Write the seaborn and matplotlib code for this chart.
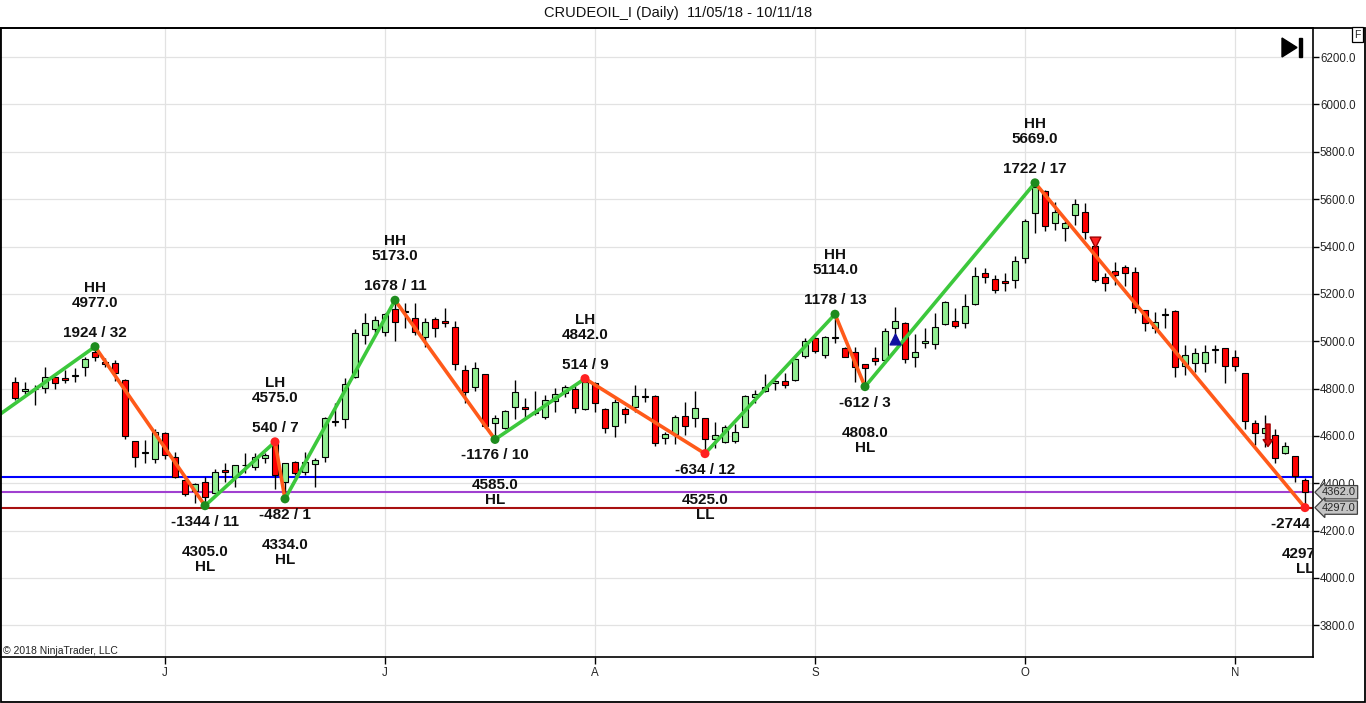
import numpy as np
import pandas as pd
import matplotlib
matplotlib.use("Agg")
import matplotlib.pyplot as plt
import seaborn as sns
from matplotlib.transforms import offset_copy, blended_transform_factory
from matplotlib.patches import Rectangle, Polygon

# ---------------- data ----------------
opens = [4829, 4790, 4797, 4801, 4848, 4843, 4855, 4892, 4956, 4912,
         4907, 4836, 4580, 4528, 4501, 4611, 4510, 4414, 4369, 4405,
         4360, 4456, 4425, 4475, 4470, 4506, 4572, 4404, 4489, 4449,
         4481, 4510, 4658, 4670, 4848, 5026, 5050, 5040, 5135, 5128,
         5097, 5016, 5093, 5085, 5059, 4878, 4805, 4860, 4656, 4632,
         4723, 4721, 4697, 4681, 4749, 4783, 4797, 4712, 4822, 4712,
         4642, 4712, 4721, 4764, 4770, 4590, 4608, 4684, 4677, 4674,
         4586, 4573, 4579, 4639, 4766, 4790, 4822, 4833, 4836, 4939,
         5012, 4942, 5013, 4973, 4953, 4902, 4928, 4921, 5054, 5076,
         4932, 4991, 4987, 5071, 5087, 5076, 5157, 5287, 5263, 5254,
         5258, 5350, 5540, 5636, 5498, 5477, 5533, 5547, 5402, 5272,
         5297, 5315, 5291, 5132, 5057, 5109, 5128, 4897, 4907, 4907,
         4961, 4970, 4932, 4864, 4653, 4611, 4604, 4527, 4516, 4414]
highs = [4848, 4828, 4815, 4892, 4850, 4878, 4886, 4932, 4977, 4928,
         4921, 4839, 4580, 4583, 4629, 4615, 4533, 4425, 4400, 4425,
         4459, 4484, 4478, 4527, 4529, 4529, 4575, 4487, 4493, 4533,
         4505, 4681, 4738, 4843, 5050, 5118, 5106, 5120, 5173, 5160,
         5160, 5097, 5101, 5139, 5087, 4900, 4911, 4862, 4688, 4709,
         4836, 4759, 4791, 4773, 4801, 4815, 4811, 4842, 4829, 4717,
         4755, 4721, 4815, 4801, 4773, 4618, 4688, 4745, 4790, 4677,
         4660, 4646, 4650, 4773, 4794, 4860, 4836, 4864, 4928, 5012,
         5016, 5022, 5114, 4977, 4977, 4902, 4977, 5057, 5146, 5080,
         5030, 5054, 5120, 5171, 5139, 5199, 5315, 5310, 5280, 5289,
         5360, 5515, 5669, 5639, 5589, 5508, 5599, 5585, 5410, 5287,
         5336, 5322, 5315, 5132, 5125, 5139, 5132, 4984, 4970, 4984,
         4984, 4972, 4963, 4864, 4667, 4688, 4628, 4576, 4516, 4421]
lows = [4750, 4777, 4731, 4783, 4797, 4825, 4829, 4853, 4918, 4890,
        4833, 4586, 4467, 4487, 4484, 4501, 4421, 4346, 4315, 4305,
        4355, 4407, 4383, 4442, 4456, 4487, 4375, 4334, 4434, 4435,
        4386, 4491, 4642, 4632, 4846, 4988, 5036, 5022, 5002, 5054,
        5026, 4974, 5016, 5061, 4878, 4740, 4791, 4632, 4585, 4628,
        4670, 4670, 4688, 4670, 4702, 4766, 4698, 4710, 4702, 4614,
        4594, 4656, 4702, 4745, 4557, 4566, 4566, 4604, 4639, 4525,
        4548, 4569, 4569, 4636, 4738, 4784, 4794, 4801, 4833, 4928,
        4951, 4930, 4991, 4932, 4829, 4808, 4900, 4907, 5012, 4907,
        4890, 4970, 4966, 5068, 5057, 5057, 5153, 5245, 5202, 5213,
        5223, 5329, 5458, 5467, 5470, 5424, 5491, 5430, 5251, 5213,
        5237, 5233, 5120, 5044, 5036, 5054, 4850, 4857, 4871, 4871,
        4907, 4822, 4875, 4628, 4562, 4555, 4484, 4524, 4407, 4297]
closes = [4759, 4798, 4799, 4850, 4822, 4835, 4858, 4925, 4932, 4905,
          4864, 4600, 4510, 4533, 4615, 4518, 4428, 4355, 4397, 4343,
          4449, 4446, 4476, 4479, 4510, 4519, 4435, 4484, 4442, 4491,
          4498, 4674, 4662, 4819, 5033, 5078, 5090, 5115, 5082, 5124,
          5040, 5082, 5054, 5076, 4902, 4784, 4888, 4642, 4674, 4705,
          4784, 4712, 4700, 4752, 4777, 4805, 4717, 4829, 4738, 4632,
          4745, 4691, 4770, 4767, 4572, 4607, 4681, 4643, 4717, 4586,
          4604, 4639, 4618, 4769, 4776, 4808, 4832, 4815, 4925, 5002,
          4960, 5016, 5017, 4935, 4890, 4885, 4918, 5044, 5087, 4924,
          4953, 5001, 5059, 5167, 5066, 5150, 5277, 5272, 5216, 5244,
          5339, 5508, 5650, 5488, 5547, 5498, 5578, 5460, 5258, 5247,
          5280, 5287, 5139, 5076, 5080, 5113, 4890, 4942, 4949, 4953,
          4965, 4895, 4895, 4664, 4611, 4635, 4506, 4559, 4431, 4362]

month_labels = ["J", "J", "A", "S", "O", "N"]
month_bar_index = [15, 37, 58, 80, 101, 122]

swing_index = [-24, 8, 19, 26, 27, 38, 48, 57, 69, 82, 85, 102, 129]
swing_price = [4015, 4977, 4305, 4575, 4334, 5173, 4585, 4842, 4525, 5114, 4808, 5669, 4297]
swing_kind = ["", "HH", "HL", "LH", "HL", "HH", "HL", "LH", "LL", "HH", "HL", "HH", "LL"]
swing_move = ["", "1924 / 32", "-1344 / 11", "540 / 7", "-482 / 1", "1678 / 11",
              "-1176 / 10", "514 / 9", "-634 / 12", "1178 / 13", "-612 / 3",
              "1722 / 17", "-2744 / 27"]

level_prices = [4425, 4362, 4297]
level_colors = ["#0000ff", "#a040d0", "#a81010"]
tag_prices = [4362, 4297]

buy_signal_bar, buy_signal_price = 88, 5008
sell_signal_bar, sell_signal_price = 108, 5421
exit_arrow_bar, exit_arrow_from, exit_arrow_to = 125, 4650, 4555

title = "CRUDEOIL_I (Daily)  11/05/18 - 10/11/18"

# ---------------- style ----------------
sns.set_theme(style="white")
plt.rcParams["font.family"] = ["Liberation Sans", "DejaVu Sans"]

W, H = 1366, 703
fig = plt.figure(figsize=(W / 100, H / 100), dpi=100)
fig.patch.set_facecolor("white")
ax = fig.add_axes([0 / W, (H - 657) / H, 1313 / W, (657 - 28) / H])
ax.set_facecolor("white")

n = len(opens)
idx = np.arange(n)
df = pd.DataFrame({"i": idx, "o": opens, "h": highs, "l": lows, "c": closes})

# horizontal levels
for p, c in zip(level_prices, level_colors):
    ax.axhline(p, color=c, lw=1.5, zorder=2)

# candles
up = df["c"] >= df["o"]
ax.vlines(df["i"], df["l"], df["h"], color="black", lw=1, zorder=3)
bottoms = np.minimum(df["o"], df["c"])
heights = np.maximum(np.abs(df["c"] - df["o"]), 2.5)
ax.bar(df["i"], heights, bottom=bottoms, width=0.6,
       color=np.where(up, "#90ee90", "#ff0000"), edgecolor="black",
       linewidth=0.8, zorder=4)

# zigzag
for k in range(len(swing_index) - 1):
    xs = [swing_index[k], swing_index[k + 1]]
    ys = [swing_price[k], swing_price[k + 1]]
    col = "#3cc83c" if ys[1] > ys[0] else "#ff5a1a"
    sns.lineplot(x=xs, y=ys, color=col, lw=2.6, ax=ax, zorder=5, sort=False)

sw = pd.DataFrame({"i": swing_index[1:], "p": swing_price[1:], "k": swing_kind[1:]})
sw["col"] = np.where(sw["k"].isin(["HH", "HL"]), "g", "r")
sns.scatterplot(data=sw, x="i", y="p", hue="col", palette={"g": "#1e8c1e", "r": "#ff2020"},
                s=42, edgecolor="none", legend=False, ax=ax, zorder=6)

# swing labels
lab_font = dict(fontsize=11, fontweight="bold", color="#111111", ha="center",
                va="center", clip_on=True, zorder=7)
for i, p, k, m in zip(swing_index[1:], swing_price[1:], swing_kind[1:], swing_move[1:]):
    is_high = k in ("HH", "LH")
    if is_high:
        offs = [(14, m), (44, f"{p:.1f}"), (59, k)]
    else:
        offs = [(-16, m), (-46, f"{p:.1f}"), (-61, k)]
    for dy, txt in offs:
        tr = offset_copy(ax.transData, fig=fig, x=0, y=dy, units="dots")
        ax.text(i, p, txt, transform=tr, **lab_font)

# signals
ax.scatter([buy_signal_bar], [buy_signal_price], marker="^", s=60, color="#1010a0", zorder=6)
ax.scatter([sell_signal_bar], [sell_signal_price], marker="v", s=60, color="#ff2020",
           edgecolor="#a00000", zorder=6)
ax.annotate("", xy=(exit_arrow_bar + 0.3, exit_arrow_to),
            xytext=(exit_arrow_bar + 0.3, exit_arrow_from),
            arrowprops=dict(facecolor="#e01010", edgecolor="#a00000", width=3,
                            headwidth=7, headlength=5), zorder=6)

# axes, ticks, grid
ax.set_xlim(-1.5, 129.8)
ax.set_ylim(3666, 6323)
yt = np.arange(3800, 6201, 200)
ax.set_yticks(yt)
ax.set_yticklabels([f"{v:.1f}" for v in yt])
ax.set_xticks(month_bar_index)
ax.set_xticklabels(month_labels)
ax.set_xlabel("")
ax.set_ylabel("")
ax.grid(True, color="#e2e2e2", lw=0.9)
ax.set_axisbelow(True)
ax.yaxis.tick_right()
ax.tick_params(axis="y", direction="out", length=4, width=1, color="black",
               labelsize=8.3, pad=1, right=True, left=False)
ax.tick_params(axis="x", direction="out", length=5, width=1, color="black",
               labelsize=8.3, pad=2, bottom=True)
for s in ax.spines.values():
    s.set_color("black")
    s.set_linewidth(1.2)

# price tags on the right axis
bt = blended_transform_factory(ax.transAxes, ax.transData)
for p in tag_prices:
    ax.text(1 + 9 / 1313, p, f"{p:.1f}", transform=bt, fontsize=8, va="center",
            ha="left", clip_on=False, zorder=10,
            bbox=dict(boxstyle="larrow,pad=0.15", fc="#c4c4c4", ec="#404040", lw=0.9))

# title, copyright, icons, frame
fig.text(678.5 / W, 1 - 13 / H, title, ha="center", va="center", fontsize=10.5, color="#111111")
fig.text(3 / W, 1 - 651 / H, "\u00a9 2018 NinjaTrader, LLC", ha="left", va="center",
         fontsize=7.5, color="#222222")
fig.text(1357.5 / W, 1 - 34.5 / H, "F", ha="center", va="center", fontsize=7.5,
         bbox=dict(boxstyle="square,pad=0.25", fc="white", ec="black", lw=0.9))


def fp(x, y):
    return (x / W, 1 - y / H)


fig.patches.append(Polygon([fp(1282, 38), fp(1282, 57), fp(1297, 47.5)], closed=True,
                           transform=fig.transFigure, fc="black", ec="black"))
fig.patches.append(Rectangle(fp(1299, 57), 3 / W, 19 / H, transform=fig.transFigure,
                             fc="black", ec="black"))
fig.patches.append(Rectangle((0.5 / W, 1 / H), (W - 1.5) / W, (H - 28.5) / H,
                             transform=fig.transFigure, fill=False, ec="black", lw=1.3))

fig.savefig("out.png", dpi=100)
